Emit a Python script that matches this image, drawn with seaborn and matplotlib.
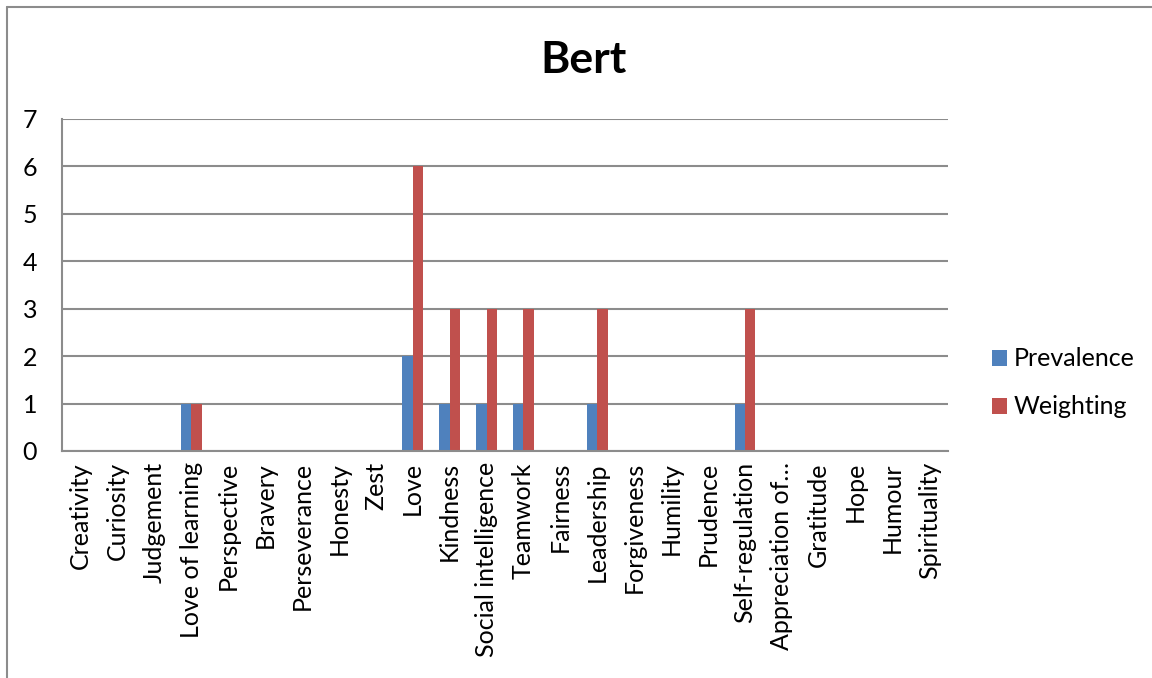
import matplotlib
matplotlib.use("Agg")
import matplotlib.pyplot as plt
import seaborn as sns
import pandas as pd
from matplotlib.lines import Line2D
from matplotlib.patches import Patch

strengths = [
    "Creativity", "Curiosity", "Judgement", "Love of learning", "Perspective",
    "Bravery", "Perseverance", "Honesty", "Zest", "Love", "Kindness",
    "Social intelligence", "Teamwork", "Fairness", "Leadership", "Forgiveness",
    "Humility", "Prudence", "Self-regulation", "Appreciation of\u2026",
    "Gratitude", "Hope", "Humour", "Spirituality",
]
prevalence = [0, 0, 0, 1, 0, 0, 0, 0, 0, 2, 1, 1, 1, 0, 1, 0, 0, 0, 1, 0, 0, 0, 0, 0]
weighting = [0, 0, 0, 1, 0, 0, 0, 0, 0, 6, 3, 3, 3, 0, 3, 0, 0, 0, 3, 0, 0, 0, 0, 0]
series_names = ["Prevalence", "Weighting"]
colors = ["#4F81BD", "#C0504D"]

df = pd.DataFrame({
    "strength": strengths * 2,
    "value": prevalence + weighting,
    "series": [series_names[0]] * len(strengths) + [series_names[1]] * len(strengths),
})

sns.set_theme(style="white")
plt.rcParams["font.family"] = ["Lato", "DejaVu Sans"]
plt.rcParams["text.color"] = "black"

fig = plt.figure(figsize=(11.52, 6.78), dpi=100)
ax = fig.add_axes([62 / 1152, 1 - 451 / 678, (948 - 62) / 1152, (451 - 119) / 678])

sns.barplot(data=df, x="strength", y="value", hue="series", order=strengths,
            hue_order=series_names, palette=colors, width=0.56, gap=0,
            saturation=1, legend=False, ax=ax, linewidth=0)

ax.set_xlim(-0.5, len(strengths) - 0.5)
ax.set_ylim(0, 7)
ax.set_yticks(range(0, 8))
ax.yaxis.grid(True, color="#8C8C8C", linewidth=1.5)
ax.set_axisbelow(True)
for side in ["top", "right"]:
    ax.spines[side].set_visible(False)
for side in ["left", "bottom"]:
    ax.spines[side].set_color("#8C8C8C")
    ax.spines[side].set_linewidth(1.5)
ax.set_xlabel("")
ax.set_ylabel("")
ax.tick_params(axis="both", length=0, labelsize=18, colors="black")
ax.tick_params(axis="y", pad=18)
ax.tick_params(axis="x", pad=8)
plt.setp(ax.get_xticklabels(), rotation=90, va="top", ha="center")

fig.text(583 / 1152, 1 - 60 / 678, "Bert", ha="center", va="center",
         fontsize=32, fontweight="bold", color="black")

handles = [Patch(facecolor=c, edgecolor="none") for c in colors]
fig.legend(handles, series_names, loc="center left",
           bbox_to_anchor=(969 / 1152, 1 - 383 / 678), frameon=False,
           fontsize=18, handlelength=0.6, handleheight=0.6,
           handletextpad=0.3, labelspacing=1.0)

# outer chart border (left and top edges)
fig.add_artist(Line2D([7 / 1152, 7 / 1152], [0, 1 - 7 / 678],
                      transform=fig.transFigure, color="#8C8C8C", linewidth=1.5))
fig.add_artist(Line2D([7 / 1152, 1], [1 - 7 / 678, 1 - 7 / 678],
                      transform=fig.transFigure, color="#8C8C8C", linewidth=1.5))

fig.savefig("out.png", dpi=100, facecolor="white")
